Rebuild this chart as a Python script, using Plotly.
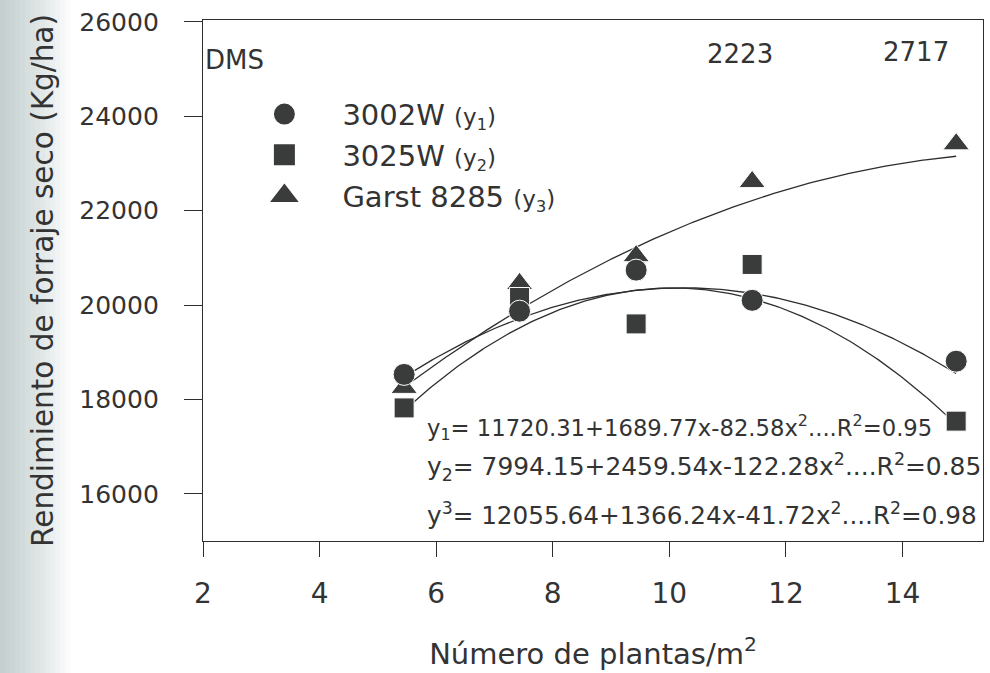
import numpy as np
import plotly.graph_objects as go

# Plant density (plants/m2) and dry forage yield (kg/ha) per hybrid
densidad = [5.45, 7.43, 9.43, 11.42, 14.92]
rend_3002w = [18530, 19870, 20740, 20100, 18810]
rend_3025w = [17820, 20160, 19600, 20860, 17540]
rend_garst = [18250, 20450, 21040, 22610, 23410]

# Quadratic fits: y = a + b*x + c*x^2
coef_3002w = [11720.31, 1689.77, -82.58]
coef_3025w = [7994.15, 2459.54, -122.28]
coef_garst = [12055.64, 1366.24, -41.72]

nombres = ["3002W", "3025W", "Garst 8285"]
subindices = ["1", "2", "3"]
simbolos = ["circle", "square", "triangle-up"]
tamanos = [22, 20, 23]

ecuaciones = [
    "y<sub>1</sub>= 11720.31+1689.77x-82.58x<sup>2</sup>....R<sup>2</sup>=0.95",
    "y<sub>2</sub>= 7994.15+2459.54x-122.28x<sup>2</sup>....R<sup>2</sup>=0.85",
    "y<sup>3</sup>= 12055.64+1366.24x-41.72x<sup>2</sup>....R<sup>2</sup>=0.98",
]
dms_etiquetas = ["DMS", "2223", "2717"]

FONT = "DejaVu Sans"
INK = "#3a3c3b"
LINE = "#2e2e2e"

fig = go.Figure()

series = [rend_3002w, rend_3025w, rend_garst]
coefs = [coef_3002w, coef_3025w, coef_garst]

# fitted curves
xs = np.linspace(min(densidad), max(densidad), 200)
for c in coefs:
    ys = c[0] + c[1] * xs + c[2] * xs ** 2
    fig.add_trace(go.Scatter(x=xs, y=ys, mode="lines", showlegend=False,
                             line=dict(color=LINE, width=1.3), hoverinfo="skip"))

# observed points (triangles drawn first so circles sit on top)
for i in [2, 1, 0]:
    fig.add_trace(go.Scatter(
        x=densidad, y=series[i], mode="markers", name=nombres[i],
        showlegend=False,
        marker=dict(symbol=simbolos[i], size=tamanos[i], color=INK,
                    line=dict(color="white", width=1)),
    ))

# legend entries (empty traces; a thick same-colour outline enlarges the key symbol)
for i in range(3):
    fig.add_trace(go.Scatter(
        x=[None], y=[None], mode="markers",
        name=f"{nombres[i]} <span style='font-size:23px'>(y<sub>{subindices[i]}</sub>)</span>",
        legendgroup=nombres[i],
        marker=dict(symbol=simbolos[i], size=16, color=INK,
                    line=dict(color=INK, width=5)),
    ))

# faint grey page edge on the left
band_px = 70
pw = 780
for k in range(14):
    x0 = -203 / pw
    x1 = (-203 + band_px * (1 - k / 14)) / pw
    fig.add_shape(type="rect", xref="paper", yref="paper", x0=x0, x1=x1,
                  y0=-0.3, y1=1.1, layer="below", line=dict(width=0),
                  fillcolor="rgba(150,160,158,0.045)")

annotations = []
# regression equations
for txt, yp, fs in zip(ecuaciones, [0.217, 0.142, 0.052], [22.7, 24.9, 24.7]):
    annotations.append(dict(xref="paper", yref="paper", x=0.285, y=yp,
                            xanchor="left", yanchor="middle", text=txt, showarrow=False,
                            font=dict(family=FONT, size=fs, color="#333")))
# least significant difference labels
for txt, xp, yp in zip(dms_etiquetas, [0.0, 0.689, 0.914], [0.923, 0.935, 0.939]):
    annotations.append(dict(xref="paper", yref="paper", x=xp, y=yp,
                            xanchor="left" if txt == "DMS" else "center", yanchor="middle",
                            text=txt, showarrow=False,
                            font=dict(family=FONT, size=26, color="#333")))

fig.update_layout(
    width=990, height=673,
    margin=dict(l=203, r=7, t=20, b=132),
    paper_bgcolor="white", plot_bgcolor="white",
    font=dict(family=FONT, color="#333"),
    showlegend=True,
    legend=dict(x=0.030, y=0.868, xanchor="left", yanchor="top",
                bgcolor="rgba(0,0,0,0)", font=dict(family=FONT, size=29, color="#333"),
                itemwidth=106, tracegroupgap=0, traceorder="grouped"),
    annotations=annotations,
)

fig.update_xaxes(
    range=[2, 15.38], tickvals=[2, 4, 6, 8, 10, 12, 14],
    showline=True, mirror=True, linecolor=LINE, linewidth=1.3,
    ticks="outside", ticklen=15, tickwidth=1.3, tickcolor=LINE,
    tickfont=dict(family=FONT, size=28, color="#333"), ticklabelstandoff=12,
    showgrid=False, zeroline=False,
    title=dict(text="Número de plantas/m<sup>2</sup>", standoff=34,
               font=dict(family=FONT, size=29, color="#333")),
)
fig.update_yaxes(
    range=[15000, 26040], tickvals=[16000, 18000, 20000, 22000, 24000, 26000],
    tickformat="d",
    showline=True, mirror=True, linecolor=LINE, linewidth=1.3,
    ticks="outside", ticklen=18, tickwidth=1.3, tickcolor=LINE,
    tickfont=dict(family=FONT, size=25, color="#333"), ticklabelstandoff=20,
    showgrid=False, zeroline=False,
    title=dict(text="Rendimiento de forraje seco (Kg/ha)", standoff=16,
               font=dict(family=FONT, size=29.5, color="#333")),
)

fig.write_html("out.html")
